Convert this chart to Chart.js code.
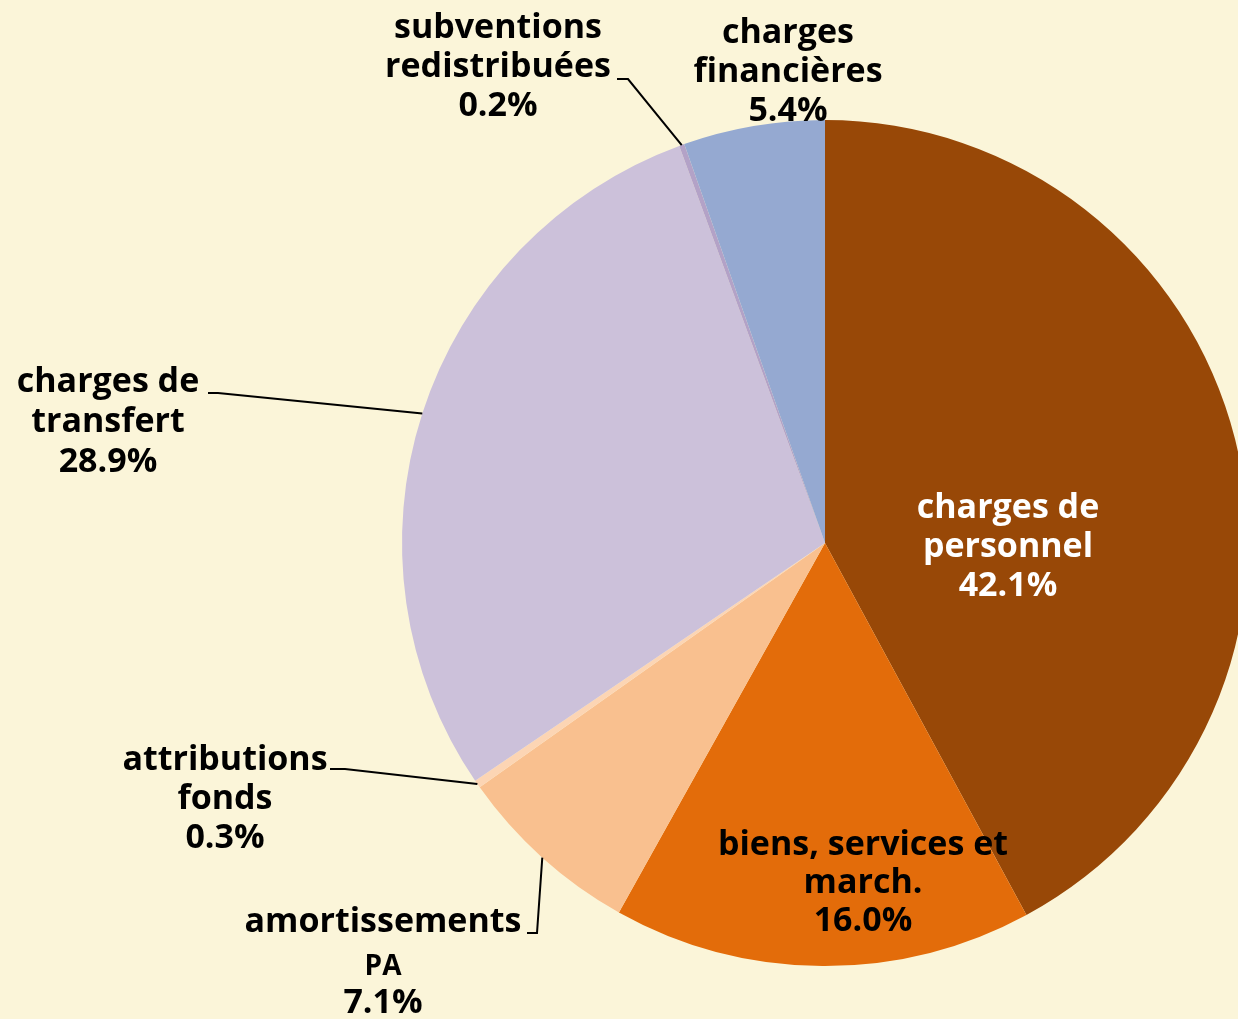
<!DOCTYPE html>
<html>
<head>
<meta charset="utf-8">
<script src="https://cdn.jsdelivr.net/npm/chart.js@4/dist/chart.umd.min.js"></script>
<style>
  html, body { margin: 0; padding: 0; background: #FBF5D9; overflow: hidden; }
  #wrap { position: relative; width: 1260px; height: 1019px; }
  canvas { display: block; }
</style>
</head>
<body>
<div id="wrap"><canvas id="c" width="1260" height="1019"></canvas></div>
<script>
// ---- data ----
const categories = ['charges de personnel', 'biens, services et march.', 'amortissements PA', 'attributions fonds', 'charges de transfert', 'subventions redistribuées', 'charges financières'];
const values = [42.1, 16.0, 7.1, 0.3, 28.9, 0.2, 5.4];
const labelLines = [
  ['charges de', 'personnel'],
  ['biens, services et', 'march.'],
  ['amortissements', 'PA'],
  ['attributions', 'fonds'],
  ['charges de', 'transfert'],
  ['subventions', 'redistribuées'],
  ['charges', 'financières']
];
const sliceColors = ['#984807', '#E36C0A', '#F9C08F', '#FCD5B4', '#CCC1DA', '#B3A2C7', '#95A9D1'];

// ---- label layout (text placement, not data) ----
const FONT = '"Open Sans", Lato, sans-serif';
const FONT_SIZE = 34;
const labelLayout = [
  { x: 1008, y: 508, color: '#ffffff', lh: 39 },
  { x: 863, y: 845, color: '#000000', lh: 38 },
  { x: 383, y: 922, color: '#000000', lh: [45, 36], small: [1], leader: [[537, 933], [527, 933]] },
  { x: 225, y: 760, color: '#000000', lh: 39, leader: [[345, 769], [330, 769]] },
  { x: 108, y: 382, color: '#000000', lh: 40, leader: [[218, 393], [208, 393]] },
  { x: 498, y: 28, color: '#000000', lh: 39, leader: [[628, 79], [617, 79]] },
  { x: 788, y: 33, color: '#000000', lh: 39 }
];

const labelPlugin = {
  id: 'pieLabels',
  afterDatasetsDraw(chart) {
    const ctx = chart.ctx;
    const meta = chart.getDatasetMeta(0);
    ctx.save();
    meta.data.forEach((arc, i) => {
      const L = labelLayout[i];
      if (L.leader) {
        const mid = (arc.startAngle + arc.endAngle) / 2;
        const px = arc.x + Math.cos(mid) * arc.outerRadius;
        const py = arc.y + Math.sin(mid) * arc.outerRadius;
        ctx.beginPath();
        ctx.strokeStyle = '#000';
        ctx.lineWidth = 2;
        ctx.moveTo(px, py);
        L.leader.forEach(p => ctx.lineTo(p[0], p[1]));
        ctx.stroke();
      }
      const lines = labelLines[i].concat([values[i].toFixed(1) + '%']);
      ctx.fillStyle = L.color;
      ctx.textAlign = 'center';
      ctx.textBaseline = 'middle';
      let y = L.y;
      lines.forEach((t, k) => {
        const small = L.small && L.small.includes(k);
        ctx.font = 'bold ' + (small ? 28 : FONT_SIZE) + 'px ' + FONT;
        ctx.fillText(t, L.x, y);
        const lh = Array.isArray(L.lh) ? L.lh[k] : L.lh;
        y += lh;
      });
    });
    ctx.restore();
  }
};

new Chart(document.getElementById('c'), {
  type: 'pie',
  data: {
    labels: categories,
    datasets: [{
      data: values,
      backgroundColor: sliceColors,
      borderWidth: 0
    }]
  },
  options: {
    responsive: false,
    animation: false,
    layout: { padding: { top: 120, bottom: 53, left: 402, right: 12 } },
    plugins: { legend: { display: false }, tooltip: { enabled: false } }
  },
  plugins: [labelPlugin]
});
</script>
</body>
</html>
